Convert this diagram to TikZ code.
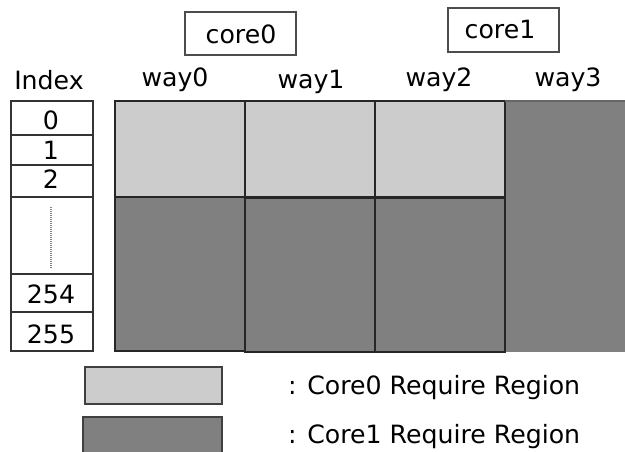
\documentclass[tikz,border=0pt]{standalone}
\usepackage{fontspec}
\setmainfont{DejaVu Sans}
\definecolor{lightc}{HTML}{CCCCCC}
\definecolor{darkc}{HTML}{808080}
\definecolor{edgec}{HTML}{333333}
\begin{document}
\begin{tikzpicture}[x=1pt,y=-1pt,
  txt/.style={font=\fontsize{25.2}{30}\selectfont, inner sep=0pt, anchor=base},
  cellbox/.style={draw=edgec, line width=1.2pt},
  lightcell/.style={fill=lightc, draw=black!85, line width=1.3pt},
  darkcell/.style={fill=darkc, draw=black!85, line width=1.3pt},
  idxcell/.style={draw=black!80, line width=1.1pt, fill=white}]
\useasboundingbox (0,0) rectangle (625,452);
% core boxes
\draw[cellbox, draw=black!70] (185,12) rectangle (296,55);
\node[txt] (core0) at (241,44) {core0};
\draw[cellbox, draw=black!70] (448,8) rectangle (559,52);
\node[txt] (core1) at (500,39) {core1};
% headers
\node[txt] (index) at (49,90) {Index};
\node[txt] (w0) at (175,87) {way0};
\node[txt] (w1) at (311,89) {way1};
\node[txt] (w2) at (439,87) {way2};
\node[txt] (w3) at (568,87) {way3};
% index column
\draw[idxcell] (11,101) rectangle (93,135);
\draw[idxcell] (11,135) rectangle (93,165);
\draw[idxcell] (11,165) rectangle (93,197);
\draw[idxcell] (11,197) rectangle (93,274);
\draw[idxcell] (11,274) rectangle (93,312);
\draw[idxcell] (11,312) rectangle (93,351);
\node[txt] (i0) at (51,130) {0};
\node[txt] (i1) at (51,159.5) {1};
\node[txt] (i2) at (51,189) {2};
\node[txt] (i254) at (51,303) {254};
\node[txt] (i255) at (51,343) {255};
\draw[gray, line width=1.2pt, dash pattern=on 1pt off 1pt] (51,207) -- (51,268);
% grid
\draw[darkc, fill=darkc] (505,101) rectangle (625,351);
\draw[black!85, line width=1.3pt] (505,101) -- (505,351);
\draw[lightcell] (115,101) rectangle (245,197);
\draw[lightcell] (245,101) rectangle (375,197);
\draw[lightcell] (375,101) rectangle (505,197);
\draw[darkcell] (115,197) rectangle (245,351);
\draw[darkcell] (245,198) rectangle (375,352);
\draw[darkcell] (375,198) rectangle (505,352);
\draw[black!60, line width=1.2pt] (505,101) -- (625,101);
% legend
\draw[fill=lightc, draw=black!75, line width=1.2pt] (85,367) rectangle (222,404);
\node[txt, anchor=base west] (l0) at (288,394) {: Core0 Require Region};
\draw[fill=darkc, draw=black!75, line width=1.2pt] (83,417) rectangle (222,453);
\node[txt, anchor=base west] (l1) at (288,443) {: Core1 Require Region};
\end{tikzpicture}
\end{document}
